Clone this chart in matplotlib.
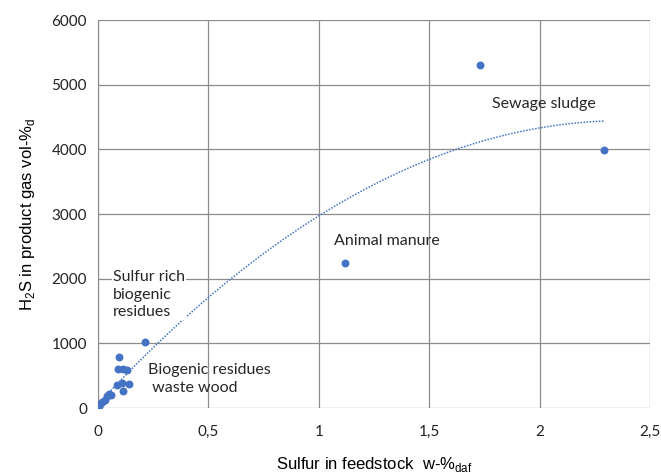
import numpy as np
import matplotlib.pyplot as plt

# sulfur in feedstock (w-% daf) vs H2S in product gas (vol-% d)
sulfur = [0.005, 0.01, 0.02, 0.03, 0.04, 0.05, 0.06, 0.085, 0.092, 0.096, 0.107,
          0.112, 0.112, 0.13, 0.142, 0.213, 1.12, 1.73, 2.29]
h2s = [30, 60, 90, 130, 190, 210, 200, 350, 600, 790, 390,
       610, 270, 580, 370, 1020, 2250, 5300, 3990]

xticks = [0, 0.5, 1, 1.5, 2, 2.5]
xtick_labels = ['0', '0,5', '1', '1,5', '2', '2,5']
yticks = [0, 1000, 2000, 3000, 4000, 5000, 6000]

plt.rcParams['font.family'] = ['Lato', 'DejaVu Sans']

fig = plt.figure(figsize=(6.61, 4.74), dpi=100)
ax = fig.add_axes([98 / 661, 66 / 474, 552 / 661, 388 / 474])

ax.scatter(sulfur, h2s, s=22, color='#4472C4', zorder=3)

# 2nd order polynomial trendline
coef = np.polyfit(sulfur, h2s, 2)
xs = np.linspace(0, max(sulfur), 200)
ax.plot(xs, np.polyval(coef, xs), linestyle=(0, (1, 1)), color='#4472C4', lw=1.1, zorder=2)

ax.set_xlim(0, 2.5)
ax.set_ylim(0, 6000)
ax.set_xticks(xticks)
ax.set_xticklabels(xtick_labels)
ax.set_yticks(yticks)
ax.grid(True, color='#8c8c8c', lw=0.9)
ax.set_axisbelow(True)
for s in ax.spines.values():
    s.set_visible(False)
ax.spines['left'].set_visible(True)
ax.spines['left'].set_color('#8c8c8c')
ax.tick_params(length=0, labelsize=11, colors='#222222', pad=8)
ax.tick_params(axis='x', pad=12)

ax.set_xlabel('Sulfur in feedstock  w-%$_{\\mathregular{daf}}$', family='Liberation Sans',
              fontsize=12, labelpad=12)
ax.set_ylabel('H$_{\\mathregular{2}}$S in product gas vol-%$_{\\mathregular{d}}$',
              family='Liberation Sans', fontsize=12, labelpad=10)

ax.text(1.785, 4700, 'Sewage sludge', fontsize=11.5, va='center', color='#262626')
ax.text(1.07, 2580, 'Animal manure', fontsize=11.5, va='center', color='#262626')
ax.text(0.068, 2130, 'Sulfur rich\nbiogenic\nresidues', fontsize=11.5, va='top',
        color='#262626', linespacing=1.3,
        bbox=dict(facecolor='white', edgecolor='none', pad=1))
ax.text(0.226, 690, 'Biogenic residues\n waste wood', fontsize=11.5, va='top',
        color='#262626', linespacing=1.3)

fig.savefig('out.png', dpi=100)
